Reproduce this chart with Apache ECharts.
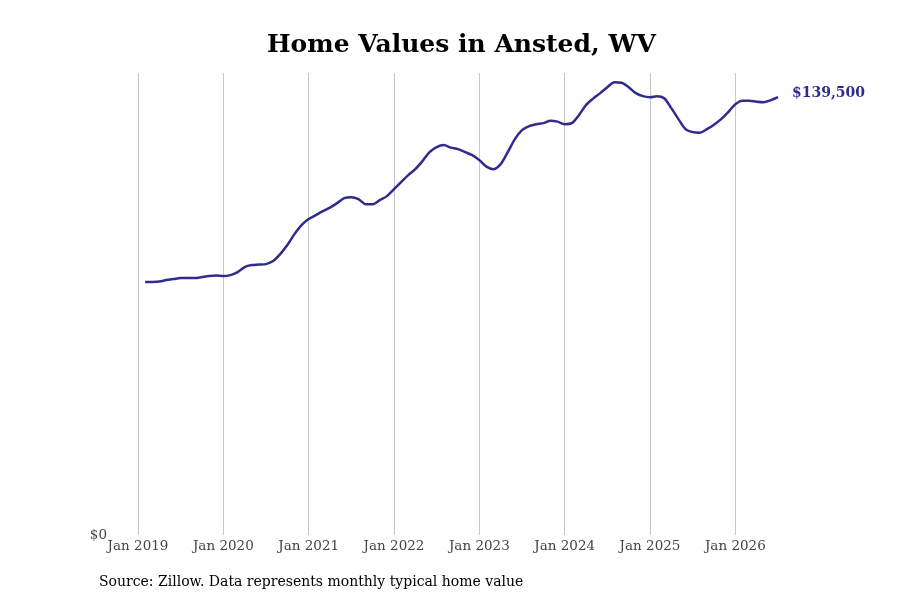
<!DOCTYPE html>
<html>
<head>
<meta charset="utf-8">
<script src="https://cdn.jsdelivr.net/npm/echarts@6/dist/echarts.min.js"></script>
<style>
  html, body { margin: 0; padding: 0; background: #fff; }
  #container { width: 900px; height: 600px; }
</style>
</head>
<body>
<div id="container"></div>
<script>
// monthly typical home value, Feb 2019 .. Jul 2026
var months = [
  '2019-02','2019-03','2019-04','2019-05','2019-06','2019-07','2019-08','2019-09','2019-10','2019-11','2019-12',
  '2020-01','2020-02','2020-03','2020-04','2020-05','2020-06','2020-07','2020-08','2020-09','2020-10','2020-11','2020-12',
  '2021-01','2021-02','2021-03','2021-04','2021-05','2021-06','2021-07','2021-08','2021-09','2021-10','2021-11','2021-12',
  '2022-01','2022-02','2022-03','2022-04','2022-05','2022-06','2022-07','2022-08','2022-09','2022-10','2022-11','2022-12',
  '2023-01','2023-02','2023-03','2023-04','2023-05','2023-06','2023-07','2023-08','2023-09','2023-10','2023-11','2023-12',
  '2024-01','2024-02','2024-03','2024-04','2024-05','2024-06','2024-07','2024-08','2024-09','2024-10','2024-11','2024-12',
  '2025-01','2025-02','2025-03','2025-04','2025-05','2025-06','2025-07','2025-08','2025-09','2025-10','2025-11','2025-12',
  '2026-01','2026-02','2026-03','2026-04','2026-05','2026-06','2026-07'
];
var homeValues = [
  80580, 80600, 80740, 81220, 81540, 81850, 81850, 81850, 82170, 82490, 82650,
  82490, 82810, 83770, 85360, 86000, 86150, 86310, 87270, 89500, 92370, 95870, 98740,
  100650, 101920, 103190, 104310, 105740, 107330, 107650, 107020, 105420, 105420, 106700, 107970,
  110200, 112430, 114660, 116570, 119120, 121990, 123580, 124220, 123420, 122940, 121990, 121030,
  119440, 117370, 116570, 118160, 121990, 126130, 128990, 130270, 130900, 131220, 132020, 131700,
  130900, 131220, 133770, 136960, 139030, 140780, 142690, 144280, 144120, 142690, 140780, 139820,
  139500, 139820, 139180, 136000, 132500, 129310, 128360, 128200, 129310, 130740, 132500, 134730,
  137270, 138390, 138390, 138070, 137910, 138550, 139500
];
var yearTicks = ['Jan 2019','Jan 2020','Jan 2021','Jan 2022','Jan 2023','Jan 2024','Jan 2025','Jan 2026'];

var lineColor = '#2f2c8e';
var serif = '"DejaVu Serif", serif';

// x position = months since Jan 2019
var seriesData = months.map(function (m, i) {
  var p = m.split('-');
  return [(+p[0] - 2019) * 12 + (+p[1] - 1), homeValues[i]];
});

var dom = document.getElementById('container');
var myChart = echarts.init(dom);
var option = {
  backgroundColor: '#fff',
  animation: false,
  title: {
    text: 'Home Values in Ansted, WV',
    left: 262,
    top: 28,
    textStyle: { fontFamily: serif, fontSize: 25, fontWeight: 'bold', color: '#000' }
  },
  graphic: [{
    type: 'text',
    left: 99,
    top: 575,
    style: {
      text: 'Source: Zillow. Data represents monthly typical home value',
      font: '14px ' + serif,
      fill: '#000'
    }
  }],
  grid: { left: 138, right: 122, top: 73, bottom: 65 },
  xAxis: {
    type: 'value',
    min: 0,
    max: 90,
    interval: 12,
    axisLine: { show: false },
    axisTick: { show: false },
    splitLine: { show: true, showMaxLine: false, lineStyle: { color: '#c8c8c8', width: 1 } },
    axisLabel: {
      margin: 4,
      fontFamily: serif,
      fontSize: 13.5,
      color: '#444',
      showMaxLabel: false,
      formatter: function (v) { return yearTicks[v / 12] || ''; }
    }
  },
  yAxis: {
    type: 'value',
    min: 0,
    max: 147200,
    interval: 147200,
    axisLine: { show: false },
    axisTick: { show: false },
    splitLine: { show: false },
    axisLabel: {
      margin: 31,
      fontFamily: serif,
      fontSize: 13.5,
      color: '#444',
      showMaxLabel: false,
      formatter: function (v) { return v === 0 ? '$0' : ''; }
    }
  },
  series: [{
    type: 'line',
    data: seriesData,
    smooth: 0.3,
    showSymbol: false,
    lineStyle: { color: lineColor, width: 2.5 },
    endLabel: {
      show: true,
      distance: 14,
      offset: [0, -4],
      fontFamily: serif,
      fontSize: 14,
      fontWeight: 'bold',
      color: lineColor,
      formatter: function (p) { return '$' + p.value[1].toLocaleString('en-US'); }
    }
  }]
};
myChart.setOption(option, true);
</script>
</body>
</html>
